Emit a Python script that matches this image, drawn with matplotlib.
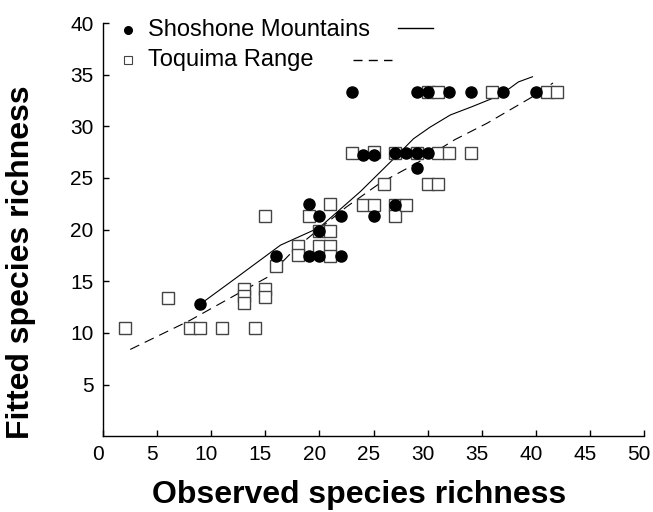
import matplotlib
matplotlib.use("Agg")
import matplotlib.pyplot as plt
import matplotlib.transforms as mtransforms

plt.rcParams["font.family"] = ["Liberation Sans", "DejaVu Sans"]

# ------------------------------------------------------------------ #
#  Data
# ------------------------------------------------------------------ #
shoshone_obs = [9, 16, 19, 19, 20, 20, 20, 22, 22, 23, 24, 25, 25, 27, 27,
                28, 29, 29, 29, 30, 30, 32, 34, 37, 40]
shoshone_fit = [12.8, 17.4, 22.5, 17.4, 21.3, 19.9, 17.4, 21.3, 17.4, 33.3,
                27.2, 27.2, 21.3, 27.4, 22.4, 27.4, 27.4, 26.0, 33.3, 33.3,
                27.4, 33.3, 33.3, 33.3, 33.3]

toquima_obs = [2, 6, 8, 9, 11, 13, 13, 13, 14, 15, 15, 15, 16, 18, 18, 19,
               20, 20, 21, 21, 21, 21, 23, 24, 25, 25, 26, 27, 27, 27, 28,
               29, 30, 30, 31, 31, 31, 32, 34, 36, 41, 42]
toquima_fit = [10.5, 13.4, 10.5, 10.5, 10.5, 14.3, 13.6, 12.9, 10.5, 21.3,
               14.3, 13.5, 16.5, 18.4, 17.5, 21.3, 19.9, 18.4, 22.5, 19.9,
               18.4, 17.4, 27.4, 22.4, 27.5, 22.4, 24.4, 27.4, 22.4, 21.3,
               22.4, 27.4, 24.4, 33.3, 33.3, 27.4, 24.4, 27.4, 27.4, 33.3,
               33.3, 33.3]

# smoothed fits (solid = Shoshone, dashed = Toquima)
shoshone_curve_x = [9, 12, 16.4, 20, 23.8, 27, 28.7, 30.2, 32.1, 34.1, 36.7, 38.4, 39.7]
shoshone_curve_y = [12.8, 15.1, 18.5, 20.2, 23.7, 27.0, 28.8, 29.9, 31.1, 31.9, 33.0, 34.3, 34.8]

toquima_curve_x = [2.5, 8, 15.2, 17.9, 22.5, 25.6, 29.1, 32.5, 35.5, 37.3, 39.6, 41.6]
toquima_curve_y = [8.4, 11.2, 15.4, 18.3, 22.2, 24.5, 26.5, 28.7, 30.3, 31.4, 32.8, 34.2]

x_ticks = [0, 5, 10, 15, 20, 25, 30, 35, 40, 45, 50]
y_ticks = [5, 10, 15, 20, 25, 30, 35, 40]

# ------------------------------------------------------------------ #
#  Figure
# ------------------------------------------------------------------ #
fig = plt.figure(figsize=(6.53, 5.12), dpi=100)
ax = fig.add_axes([0.158, 0.148, 0.828, 0.807])

dash = (0, (9, 5.5))
ax.plot(shoshone_curve_x, shoshone_curve_y, color="black", lw=0.8, zorder=2)
ax.plot(toquima_curve_x, toquima_curve_y, color="black", lw=0.8,
        linestyle=dash, zorder=2)

ax.plot(toquima_obs, toquima_fit, linestyle="none", marker="s", ms=8,
        mfc="white", mec="#444444", mew=1.0, zorder=3)
ax.plot(shoshone_obs, shoshone_fit, linestyle="none", marker="o", ms=8,
        mfc="black", mec="black", zorder=4)

ax.set_xlim(0, 50)
ax.set_ylim(0, 40)
ax.set_xticks(x_ticks)
ax.set_yticks(y_ticks)
ax.tick_params(direction="in", length=4, width=1, labelsize=15)
ax.tick_params(axis="x", pad=6)
ax.tick_params(axis="y", pad=7)
for lbl in ax.get_xticklabels():
    lbl.set_transform(lbl.get_transform() +
                      mtransforms.ScaledTranslation(-0.05, 0, fig.dpi_scale_trans))

for side in ("top", "right"):
    ax.spines[side].set_visible(False)
for side in ("left", "bottom"):
    ax.spines[side].set_linewidth(1.0)

ax.set_xlabel("Observed species richness", fontsize=23, fontweight="bold")
ax.set_ylabel("Fitted species richness", fontsize=23, fontweight="bold")
ax.xaxis.set_label_coords(0.473, -0.105)
ax.yaxis.set_label_coords(-0.125, 0.421)

# hand-made legend: marker, label, line sample
tr = ax.transAxes
ax.plot([0.046], [0.983], marker="o", ms=5.5, mfc="black", mec="black",
        transform=tr, clip_on=False)
ax.text(0.083, 0.983, "Shoshone Mountains", transform=tr, fontsize=17,
        va="center", ha="left")
ax.plot([0.545, 0.610], [0.988, 0.988], color="black", lw=1.0,
        transform=tr, clip_on=False)

ax.plot([0.046], [0.910], marker="s", ms=5.5, mfc="white", mec="#444444",
        mew=0.8, transform=tr, clip_on=False)
ax.text(0.083, 0.910, "Toquima Range", transform=tr, fontsize=17,
        va="center", ha="left")
ax.plot([0.462, 0.534], [0.910, 0.910], color="black", lw=1.0,
        linestyle=(0, (6.5, 4.5)), transform=tr, clip_on=False)

fig.savefig("out.png", dpi=100)
